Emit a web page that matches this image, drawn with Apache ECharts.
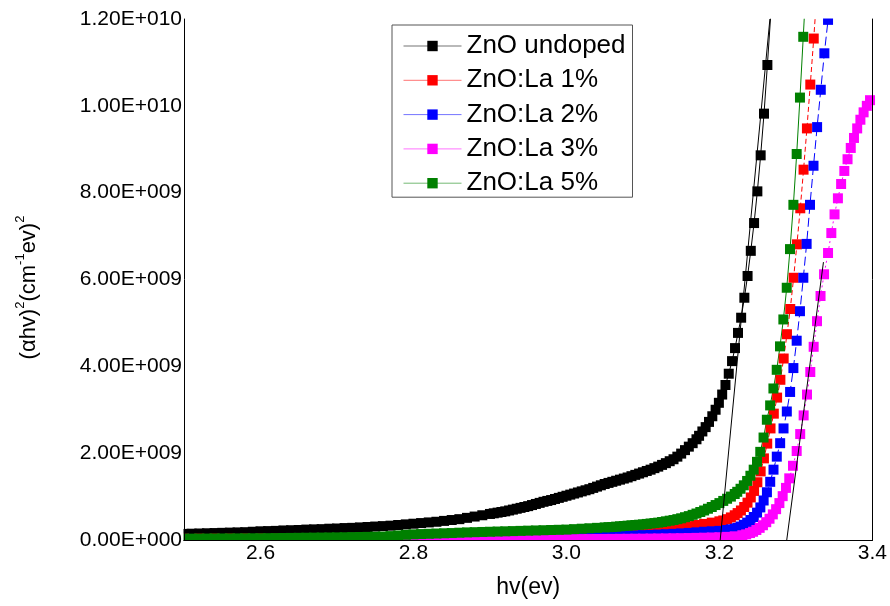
<!DOCTYPE html>
<html>
<head>
<meta charset="utf-8">
<script src="https://cdn.jsdelivr.net/npm/echarts@6/dist/echarts.min.js"></script>
<style>
  html, body { margin: 0; padding: 0; background: #fff; }
  #chart { width: 890px; height: 606px; }
</style>
</head>
<body>
<div id="chart"></div>
<script>
// Tauc plot data: photon energy hv (eV) and (αhv)² in units of 1e9 (cm⁻¹·eV)²
const UNIT = 1e9;

const seriesNames = ['ZnO undoped', 'ZnO:La 1%', 'ZnO:La 2%', 'ZnO:La 3%', 'ZnO:La 5%'];

const undoped = [
  [2.50,0.14],[2.51,0.145],[2.52,0.15],[2.53,0.155],[2.54,0.16],[2.55,0.165],[2.56,0.17],[2.57,0.175],[2.58,0.18],[2.59,0.19],
  [2.60,0.20],[2.61,0.205],[2.62,0.21],[2.63,0.22],[2.64,0.225],[2.65,0.23],[2.66,0.24],[2.67,0.245],[2.68,0.25],[2.69,0.26],
  [2.70,0.265],[2.71,0.275],[2.72,0.28],[2.73,0.29],[2.74,0.30],[2.75,0.31],[2.76,0.32],[2.77,0.33],[2.78,0.345],[2.79,0.36],
  [2.80,0.375],[2.81,0.39],[2.82,0.405],[2.83,0.42],[2.84,0.44],[2.85,0.46],[2.86,0.48],[2.87,0.51],[2.88,0.54],[2.89,0.57],
  [2.900,0.60],[2.905,0.615],[2.910,0.63],[2.915,0.645],[2.920,0.66],[2.925,0.68],[2.930,0.70],[2.935,0.72],[2.940,0.74],
  [2.945,0.76],[2.950,0.78],[2.955,0.805],[2.960,0.83],[2.965,0.855],[2.970,0.88],[2.975,0.90],[2.980,0.92],[2.985,0.945],
  [2.990,0.97],[2.995,0.995],[3.000,1.02],[3.005,1.045],[3.010,1.07],[3.015,1.095],[3.020,1.12],[3.025,1.145],[3.030,1.17],
  [3.035,1.20],[3.040,1.23],[3.045,1.26],[3.050,1.29],[3.055,1.315],[3.060,1.34],[3.065,1.365],[3.070,1.39],[3.075,1.415],
  [3.080,1.44],[3.085,1.47],[3.090,1.50],[3.095,1.53],[3.100,1.56],[3.105,1.59],[3.110,1.62],[3.115,1.655],[3.120,1.69],
  [3.125,1.73],[3.130,1.77],[3.135,1.815],[3.140,1.86],[3.145,1.92],[3.150,1.99],[3.155,2.07],[3.160,2.15],[3.165,2.23],
  [3.170,2.32],[3.1734,2.40],[3.1777,2.50],[3.182,2.60],[3.1864,2.72],[3.1907,2.85],[3.195,3.00],[3.1993,3.16],[3.2036,3.35],
  [3.2079,3.57],[3.2122,3.83],[3.2165,4.12],[3.2204,4.42],[3.2243,4.77],[3.2284,5.12],[3.2326,5.58],[3.2368,6.08],[3.2410,6.66],
  [3.2453,7.30],[3.2496,8.03],[3.2539,8.86],[3.2583,9.82],[3.2627,10.94],[3.2671,12.10]
];

const la1 = [
  [2.50,0.03],[2.52,0.03],[2.54,0.031],[2.56,0.032],[2.58,0.033],[2.60,0.034],[2.62,0.035],[2.64,0.036],[2.66,0.038],[2.68,0.04],
  [2.70,0.042],[2.72,0.044],[2.74,0.046],[2.76,0.048],[2.78,0.05],[2.80,0.055],[2.82,0.06],[2.84,0.065],[2.86,0.07],[2.88,0.076],
  [2.90,0.083],[2.91,0.086],[2.92,0.09],[2.93,0.094],[2.94,0.098],[2.95,0.103],[2.96,0.108],[2.97,0.113],[2.98,0.118],[2.99,0.124],
  [3.00,0.13],[3.01,0.136],[3.02,0.143],[3.03,0.15],[3.04,0.158],[3.05,0.166],[3.06,0.175],[3.07,0.185],[3.08,0.195],[3.09,0.207],
  [3.10,0.22],[3.11,0.233],[3.12,0.247],[3.13,0.262],[3.14,0.28],[3.15,0.30],[3.16,0.32],[3.17,0.345],[3.18,0.37],[3.19,0.40],
  [3.20,0.43],[3.205,0.45],[3.21,0.48],[3.215,0.52],[3.22,0.57],[3.2238,0.62],[3.2281,0.68],[3.2324,0.76],[3.2367,0.86],
  [3.2410,0.98],[3.2453,1.13],[3.2496,1.33],[3.2539,1.58],[3.2582,1.88],[3.2625,2.22],[3.2668,2.57],[3.2711,2.91],[3.2754,3.28],
  [3.2797,3.69],[3.2840,4.18],[3.2883,4.74],[3.2926,5.32],[3.2970,6.04],[3.3013,6.81],[3.3057,7.64],[3.3100,8.53],[3.3144,9.48],
  [3.3188,10.49],[3.3233,11.55],[3.3278,12.70]
];

const la2 = [
  [2.50,0.02],[2.52,0.02],[2.54,0.021],[2.56,0.022],[2.58,0.023],[2.60,0.024],[2.62,0.025],[2.64,0.026],[2.66,0.027],[2.68,0.028],
  [2.70,0.029],[2.72,0.03],[2.74,0.031],[2.76,0.033],[2.78,0.035],[2.80,0.037],[2.82,0.038],[2.84,0.04],[2.86,0.041],[2.88,0.043],
  [2.90,0.045],[2.91,0.047],[2.92,0.049],[2.93,0.051],[2.94,0.053],[2.95,0.055],[2.96,0.057],[2.97,0.06],[2.98,0.062],[2.99,0.065],
  [3.00,0.068],[3.01,0.071],[3.02,0.074],[3.03,0.078],[3.04,0.082],[3.05,0.086],[3.06,0.09],[3.07,0.095],[3.08,0.10],[3.09,0.106],
  [3.10,0.112],[3.11,0.118],[3.12,0.125],[3.13,0.133],[3.14,0.142],[3.15,0.152],[3.16,0.163],[3.17,0.176],[3.18,0.19],[3.19,0.20],
  [3.20,0.21],[3.21,0.23],[3.215,0.245],[3.22,0.26],[3.2234,0.28],[3.2277,0.31],[3.2320,0.35],[3.2363,0.40],[3.2406,0.46],
  [3.2449,0.53],[3.2492,0.63],[3.2535,0.75],[3.2578,0.91],[3.2621,1.10],[3.2664,1.34],[3.2707,1.62],[3.2750,1.92],[3.2794,2.23],
  [3.2838,2.57],[3.2881,2.96],[3.2924,3.41],[3.2967,3.96],[3.3010,4.59],[3.3053,5.27],[3.3097,6.04],[3.3140,6.82],[3.3184,7.72],
  [3.3230,8.62],[3.3277,9.51],[3.3325,10.37],[3.3372,11.21],[3.3420,11.98],[3.3467,12.80]
];

const la3 = [
  [2.50,0.002],[2.52,0.002],[2.54,0.002],[2.56,0.003],[2.58,0.003],[2.60,0.003],[2.62,0.004],[2.64,0.004],[2.66,0.004],[2.68,0.005],
  [2.70,0.005],[2.71,0.005],[2.72,0.006],[2.73,0.006],[2.74,0.006],[2.75,0.007],[2.76,0.007],[2.77,0.007],[2.78,0.007],[2.79,0.008],
  [2.80,0.008],[2.81,0.008],[2.82,0.008],[2.83,0.009],[2.84,0.009],[2.85,0.01],[2.86,0.01],[2.87,0.01],[2.88,0.01],[2.89,0.011],
  [2.90,0.011],[2.91,0.012],[2.92,0.012],[2.93,0.013],[2.94,0.014],[2.95,0.014],[2.96,0.015],[2.97,0.016],[2.98,0.017],[2.99,0.018],
  [3.00,0.019],[3.01,0.02],[3.02,0.021],[3.03,0.022],[3.04,0.023],[3.05,0.024],[3.06,0.025],[3.07,0.027],[3.08,0.028],[3.09,0.03],
  [3.10,0.031],[3.11,0.033],[3.12,0.035],[3.13,0.037],[3.14,0.04],[3.15,0.042],[3.16,0.045],[3.17,0.049],[3.18,0.053],[3.19,0.058],
  [3.20,0.064],[3.21,0.072],[3.22,0.085],[3.23,0.11],[3.235,0.13],[3.24,0.16],[3.244,0.19],[3.2483,0.23],[3.2526,0.28],
  [3.2569,0.34],[3.2612,0.41],[3.2655,0.49],[3.2698,0.59],[3.2741,0.71],[3.2784,0.85],[3.2827,1.01],[3.2870,1.20],[3.2913,1.42],
  [3.2962,1.71],[3.3010,2.05],[3.3056,2.44],[3.3101,2.87],[3.3145,3.35],[3.3188,3.87],[3.3232,4.45],[3.3276,5.04],[3.3322,5.62],
  [3.3368,6.12],[3.3420,6.61],[3.3463,7.07],[3.3505,7.50],[3.3549,7.87],[3.3591,8.20],[3.3633,8.50],[3.3675,8.77],[3.3717,9.03],
  [3.3759,9.26],[3.3801,9.48],[3.3843,9.68],[3.3885,9.85],[3.3927,10.00],[3.3969,10.13],[3.4011,10.25]
];

const la5 = [
  [2.50,0.03],[2.51,0.031],[2.52,0.032],[2.53,0.033],[2.54,0.034],[2.55,0.035],[2.56,0.036],[2.57,0.037],[2.58,0.038],[2.59,0.039],
  [2.60,0.04],[2.61,0.042],[2.62,0.044],[2.63,0.046],[2.64,0.048],[2.65,0.05],[2.66,0.052],[2.67,0.054],[2.68,0.056],[2.69,0.058],
  [2.70,0.06],[2.71,0.063],[2.72,0.066],[2.73,0.069],[2.74,0.072],[2.75,0.076],[2.76,0.08],[2.77,0.09],[2.78,0.105],[2.79,0.12],
  [2.80,0.13],[2.81,0.137],[2.82,0.143],[2.83,0.149],[2.84,0.155],[2.85,0.16],[2.86,0.168],[2.87,0.175],[2.88,0.18],[2.89,0.185],
  [2.90,0.19],[2.91,0.195],[2.92,0.20],[2.93,0.205],[2.94,0.21],[2.95,0.215],[2.96,0.22],[2.97,0.225],[2.98,0.23],[2.99,0.235],
  [3.00,0.24],[3.01,0.25],[3.02,0.26],[3.03,0.27],[3.04,0.28],[3.050,0.29],[3.055,0.295],[3.060,0.30],[3.065,0.308],[3.070,0.315],
  [3.075,0.322],[3.080,0.33],[3.085,0.338],[3.090,0.345],[3.095,0.352],[3.100,0.36],[3.105,0.37],[3.110,0.38],[3.115,0.39],
  [3.120,0.40],[3.125,0.415],[3.130,0.43],[3.135,0.445],[3.140,0.46],[3.145,0.48],[3.150,0.50],[3.155,0.525],[3.160,0.55],
  [3.165,0.58],[3.170,0.61],[3.175,0.645],[3.180,0.68],[3.185,0.72],[3.190,0.76],[3.195,0.805],[3.200,0.85],
  [3.205,0.90],[3.21,0.95],[3.215,1.00],[3.22,1.06],[3.2233,1.11],[3.2276,1.18],[3.2319,1.26],[3.2362,1.36],
  [3.2405,1.48],[3.2448,1.62],[3.2491,1.80],[3.2534,2.03],[3.2577,2.36],[3.2620,2.77],[3.2663,3.10],[3.2706,3.49],[3.2749,3.92],
  [3.2792,4.46],[3.2836,5.08],[3.2880,5.81],[3.2923,6.70],[3.2967,7.72],[3.3010,8.89],[3.3053,10.19],[3.3096,11.59],[3.3139,13.00]
];

// Linear extrapolations of the absorption edges to the energy axis
const edgeUndoped = [[3.201, 0], [3.266, 12.0]];
const edgeLa3 = [[3.288, 0], [3.336, 6.4]];

const xTickLabels = ['2.6', '2.8', '3.0', '3.2', '3.4'];
const yTickLabels = ['0.00E+000', '2.00E+009', '4.00E+009', '6.00E+009', '8.00E+009', '1.00E+010', '1.20E+010'];

const colors = ['#000000', '#ff0000', '#0000ff', '#ff00ff', '#008000'];
const lineTypes = ['solid', [5, 3], [9, 4], [2, 3], 'solid'];
const dataSets = [undoped, la1, la2, la3, la5];

const FONT = '"Liberation Sans", Arial, Helvetica, sans-serif';
const GRID = { left: 184, right: 14, top: 19, bottom: 66 };
const W = 890, H = 606;

const scaled = arr => arr.map(p => [p[0], p[1] * UNIT]);

const dataSeries = dataSets.map((d, i) => ({
  name: seriesNames[i],
  type: 'line',
  data: scaled(d),
  symbol: 'rect',
  symbolSize: 10,
  showAllSymbol: true,
  color: colors[i],
  itemStyle: { color: colors[i] },
  lineStyle: { color: colors[i], width: 1, type: lineTypes[i] },
  silent: true,
  z: 2
}));

const edgeSeries = [edgeUndoped, edgeLa3].map(d => ({
  type: 'line',
  data: scaled(d),
  symbol: 'none',
  lineStyle: { color: '#000', width: 1 },
  silent: true,
  z: 4
}));

// white masks keep square markers inside the plotting frame
const gx0 = GRID.left, gx1 = W - GRID.right, gy0 = GRID.top, gy1 = H - GRID.bottom;
const masks = [
  { x: 0, y: gy1 + 0.5, width: W, height: 22 },
  { x: gx1 + 0.5, y: 0, width: W - gx1, height: gy1 + 22 },
  { x: gx0, y: 0, width: W - gx0, height: gy0 - 0.5 },
  { x: gx0 - 8, y: gy0, width: 7.5, height: gy1 - gy0 + 10 }
].map(r => ({ type: 'rect', shape: r, style: { fill: '#fff' }, z: 3, silent: true }));

const chart = echarts.init(document.getElementById('chart'), null, { renderer: 'canvas' });
chart.setOption({
  animation: false,
  backgroundColor: '#fff',
  grid: { left: GRID.left, right: GRID.right, top: GRID.top, bottom: GRID.bottom },
  legend: {
    data: seriesNames,
    orient: 'vertical',
    left: 392,
    top: 25,
    padding: [8, 7, 1, 11],
    itemWidth: 58,
    itemHeight: 13,
    itemGap: 8.3,
    backgroundColor: '#fff',
    borderColor: '#555',
    borderWidth: 1,
    lineStyle: { type: 'solid', width: 1, opacity: 0.55 },
    textStyle: { fontFamily: FONT, fontSize: 26, color: '#000' },
    z: 6
  },
  graphic: { elements: masks },
  xAxis: [{
    type: 'value', min: 2.5, max: 3.4, interval: 0.1, z: 5,
    name: 'hv(ev)', nameLocation: 'middle', nameGap: 36,
    nameTextStyle: { fontFamily: FONT, fontSize: 23, color: '#000' },
    axisLine: { lineStyle: { color: '#000', width: 1 } },
    axisTick: { show: false },
    splitLine: { show: false },
    axisLabel: {
      fontFamily: FONT, fontSize: 21, color: '#000', margin: 3, showMaxLabel: true,
      formatter: v => { const s = v.toFixed(1); return xTickLabels.includes(s) ? s : ''; }
    }
  }, {
    type: 'value', position: 'top', min: 2.5, max: 3.4, interval: 0.1, z: 5,
    axisLine: { show: true, lineStyle: { color: '#000', width: 1 } },
    axisTick: { show: false }, axisLabel: { show: false }, splitLine: { show: false }
  }],
  yAxis: [{
    type: 'value', min: 0, max: 12 * UNIT, interval: 2 * UNIT, z: 5,
    name: '(αhv){sup|2}(cm{sup|-1}ev){sup|2}', nameLocation: 'middle', nameRotate: 90, nameGap: 140,
    nameTextStyle: {
      fontFamily: FONT, fontSize: 22, color: '#000', lineHeight: 30, padding: [0, 16, 0, 0],
      rich: { sup: { fontFamily: FONT, fontSize: 13, color: '#000', verticalAlign: 'top', lineHeight: 14 } }
    },
    axisLine: { show: true, lineStyle: { color: '#000', width: 1 } },
    axisTick: { show: false },
    splitLine: { show: false },
    axisLabel: {
      fontFamily: FONT, fontSize: 21, color: '#000', margin: 2,
      formatter: v => yTickLabels[Math.round(v / (2 * UNIT))]
    }
  }, {
    type: 'value', position: 'right', min: 0, max: 12 * UNIT, interval: 2 * UNIT, z: 5,
    axisLine: { show: true, lineStyle: { color: '#000', width: 1 } },
    axisTick: { show: false }, axisLabel: { show: false }, splitLine: { show: false }
  }],
  series: dataSeries.concat(edgeSeries)
});
</script>
</body>
</html>
